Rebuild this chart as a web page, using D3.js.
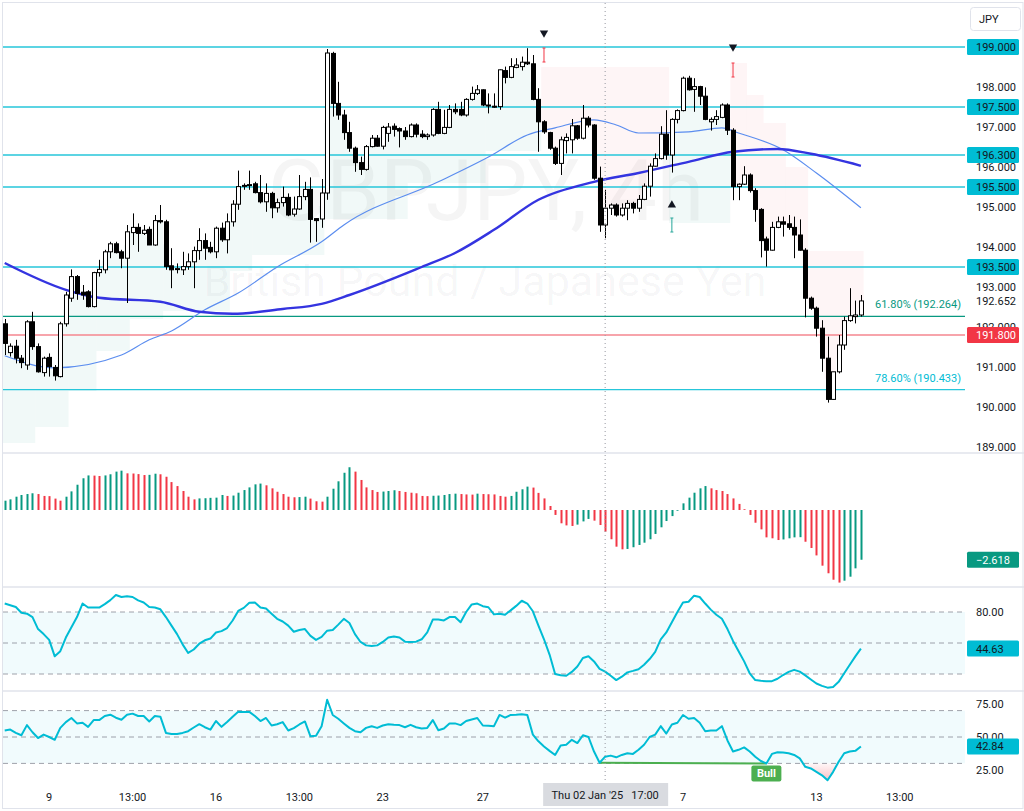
<!DOCTYPE html>
<html>
<head>
<meta charset="utf-8">
<script src="https://cdn.jsdelivr.net/npm/d3@7"></script>
<style>
  body { margin: 0; background: #fff; }
  svg { display: block; }
</style>
</head>
<body>
<div id="chart"></div>
<script>
// GBPJPY 4h candles, [open, high, low, close]
const candles = [
  [192.08,192.2,191.3,191.59],[191.36,191.59,191.26,191.52],[191.52,191.68,191.09,191.22],[191.22,191.3,190.97,191.11],[191.05,192.17,190.93,192.13],
  [192.13,192.38,191.43,191.51],[191.51,191.59,190.86,190.88],[190.86,191.26,190.76,191.22],[191.24,191.34,190.76,191.01],[190.99,191.05,190.66,190.78],
  [190.76,192.13,190.74,192.08],[192.08,192.88,192.01,192.8],[192.72,193.44,192.63,193.26],[193.26,193.3,192.68,192.84],[192.87,193.05,192.68,192.8],
  [192.88,192.92,192.49,192.51],[192.51,193.38,192.49,193.36],[193.36,193.68,193.26,193.44],[193.43,193.93,193.34,193.88],[193.88,194.13,193.72,194.08],
  [194.08,194.13,193.84,193.86],[193.88,193.93,193.47,193.72],[193.72,194.55,192.6,194.38],[194.36,194.84,194.05,194.49],[194.49,194.59,193.88,194.34],
  [194.34,194.55,194.3,194.42],[194.44,194.51,194.05,194.05],[194.05,194.8,194.03,194.66],[194.66,195.05,194.59,194.63],[194.63,194.68,193.43,193.51],
  [193.53,193.97,192.97,193.43],[193.45,193.59,193.34,193.46],[193.43,193.88,193.3,193.51],[193.51,193.84,193.43,193.63],[193.63,194.01,192.97,193.91],
  [193.91,194.47,193.68,194.16],[194.16,194.34,193.68,193.97],[193.99,194.13,193.84,193.88],[193.88,194.51,193.72,194.47],[194.47,194.61,194.13,194.18],
  [194.18,194.84,193.84,194.63],[194.63,195.17,194.51,195.07],[195.07,195.91,194.93,195.51],[195.53,195.59,195.43,195.54],[195.54,195.91,195.43,195.56],
  [195.58,195.63,195.34,195.36],[195.36,195.8,195.09,195.13],[195.13,195.59,194.88,195.34],[195.34,195.38,194.72,194.98],[194.98,195.21,194.86,195.11],
  [195.11,195.51,195.01,195.24],[195.24,195.34,194.77,194.8],[194.82,195.26,194.76,194.95],[194.95,195.8,194.93,195.26],[195.26,195.63,195.17,195.44],
  [195.44,195.74,194.11,194.69],[194.71,194.72,194.13,194.66],[194.7,195.7,194.48,195.35],[195.35,198.95,195.18,198.85],[198.84,198.88,197.26,197.59],
  [197.59,198.13,197.18,197.3],[197.3,197.43,196.68,196.86],[196.86,197.13,196.38,196.47],[196.47,196.51,195.88,196.11],[196.11,196.26,195.8,195.94],
  [195.94,196.55,195.91,196.51],[196.51,196.8,196.49,196.72],[196.72,196.8,196.51,196.52],[196.52,197.03,196.44,196.99],[196.84,197.1,196.63,197.0],
  [197.02,197.09,196.76,196.94],[196.96,196.99,196.49,196.9],[196.9,197.0,196.68,196.76],[196.76,197.09,196.74,197.05],[197.05,197.09,196.74,196.82],
  [196.82,196.92,196.72,196.76],[196.76,196.84,196.68,196.8],[196.8,197.47,196.76,197.44],[197.44,197.63,196.82,196.84],[196.84,197.43,196.82,196.99],
  [196.99,197.55,196.97,197.44],[197.44,197.59,197.32,197.38],[197.44,197.63,197.27,197.3],[197.3,197.72,197.26,197.69],[197.69,198.01,197.66,197.84],
  [197.84,198.05,197.8,197.93],[197.93,197.94,197.52,197.55],[197.55,197.84,197.34,197.54],[197.52,197.84,197.48,197.51],[197.51,198.44,197.43,198.43],
  [198.41,198.51,198.09,198.24],[198.24,198.72,198.22,198.51],[198.49,198.72,198.47,198.55],[198.51,198.76,198.41,198.62],[198.62,198.97,198.55,198.58],
  [198.58,198.8,197.67,197.69],[197.69,197.97,196.38,197.13],[197.13,197.17,196.83,196.88],[196.86,196.88,196.43,196.47],[196.47,196.51,196.05,196.09],
  [196.09,196.76,195.8,196.68],[196.66,196.84,196.34,196.74],[196.68,197.2,196.34,197.03],[197.03,197.05,196.68,196.72],[196.72,197.55,196.69,197.22],
  [197.22,197.27,196.99,197.05],[197.05,197.07,195.68,195.72],[195.72,196.01,194.38,194.55],[194.55,195.43,194.22,194.97],[194.97,195.09,194.8,195.05],
  [195.05,195.09,194.76,194.8],[194.8,195.09,194.76,194.97],[194.97,195.17,194.67,195.09],[195.09,195.13,194.84,194.97],[194.97,195.3,194.88,195.19],
  [195.19,195.59,195.17,195.52],[195.52,196.09,195.26,196.02],[196.02,196.34,196.01,196.21],[196.21,197.02,196.19,196.82],[196.82,197.42,196.18,196.3],
  [196.3,197.22,195.86,197.19],[197.19,197.44,197.09,197.41],[197.41,198.26,197.39,198.22],[198.22,198.28,197.91,197.93],[197.94,198.22,197.38,198.01],
  [198.01,198.03,197.55,197.77],[197.77,197.99,197.17,197.19],[197.13,197.24,196.91,197.19],[197.19,197.42,197.05,197.26],[197.24,197.59,197.22,197.55],
  [197.55,197.59,196.8,196.92],[196.92,196.97,195.17,195.51],[195.51,195.59,195.17,195.57],[195.57,196.02,195.55,195.8],[195.8,195.84,195.36,195.41],
  [195.41,195.47,194.63,194.94],[194.94,194.97,193.74,194.16],[194.2,194.26,193.51,193.92],[193.92,194.63,193.91,194.49],[194.49,194.76,194.47,194.63],
  [194.63,194.76,194.26,194.57],[194.58,194.8,194.43,194.49],[194.49,194.76,193.72,194.3],[194.3,194.69,193.91,193.92],[193.92,193.97,192.24,192.72],
  [192.72,192.76,192.43,192.47],[192.47,192.51,191.76,191.97],[191.97,192.17,190.88,191.22],[191.22,191.76,190.11,190.19],[190.19,190.88,190.18,190.88],
  [190.88,191.8,190.84,191.55],[191.55,192.26,191.43,192.16],[192.16,192.97,192.13,192.28],[192.26,192.66,192.09,192.3],[192.3,192.8,192.26,192.652]
];

// moving averages, read at a few bars
const maSlowIdx = [0, 11, 17, 28, 35, 41, 50, 57, 62, 75, 81, 88, 96, 106, 114, 123, 131, 139, 145, 154];
const maSlowVal = [193.6, 192.93, 192.73, 192.63, 192.38, 192.33, 192.45, 192.58, 192.8, 193.5, 193.85, 194.43, 195.18, 195.63, 195.85, 196.13, 196.38, 196.45, 196.33, 196.03];
const maFastIdx = [0, 9, 21, 26, 30, 36, 42, 49, 57, 61, 78, 87, 94, 99, 106, 110, 114, 123, 129, 132, 140, 146, 154];
const maFastVal = [191.28, 190.98, 191.3, 191.68, 191.9, 192.43, 192.85, 193.5, 194.13, 194.55, 195.63, 196.25, 196.8, 196.98, 197.18, 197.05, 196.85, 196.88, 196.98, 196.85, 196.43, 195.85, 194.98];

// trend stop segments: [from bar, to bar, level, uptrend]
const trendSegments = [
  [0, 5, 189.1, true], [6, 11, 189.5, true], [12, 16, 190.4, true], [17, 22, 191.4, true],
  [23, 28, 192.2, true], [29, 40, 192.4, true], [41, 44, 193.4, true], [45, 57, 193.8, true],
  [58, 72, 194.7, true], [73, 86, 195.6, true], [87, 96, 196.4, true],
  [97, 119, 198.5, false],
  [120, 130, 194.6, true],
  [131, 133, 198.6, false], [134, 136, 197.8, false], [137, 140, 197.1, false],
  [141, 144, 196.0, false], [145, 154, 193.9, false]
];

// signal markers
const signalIdx = [97, 120, 131];
const signalUp = [false, true, false];
const signalPrice = [199.35, 195.05, 199.0];
const stopTop = [198.975, 194.725, 198.6];
const stopBottom = [198.625, 194.375, 198.25];

// horizontal levels
const levelValues = [199.0, 197.5, 196.3, 195.5, 193.5];
const redLevel = 191.8;
const fibValues = [192.264, 190.433];
const fibNames = ["61.80%", "78.60%"];

// oscillator histogram
const histValues = [
  0.49,0.56,0.70,0.79,0.84,0.88,0.84,0.74,0.73,0.60,
  0.49,0.70,0.98,1.33,1.67,1.82,1.81,1.79,1.82,1.88,
  2.02,2.07,1.93,1.92,1.89,1.84,1.85,1.91,1.88,1.75,
  1.47,1.26,1.00,0.70,0.56,0.61,0.62,0.64,0.65,0.79,
  0.74,0.76,0.91,1.05,1.19,1.35,1.39,1.30,1.14,0.96,
  0.84,0.70,0.67,0.68,0.70,0.60,0.46,0.44,0.70,1.12,
  1.51,1.96,2.25,2.02,1.58,1.19,1.05,0.95,0.97,1.00,
  1.04,1.00,0.95,0.91,0.88,0.74,0.73,0.75,0.76,0.79,
  0.84,0.86,0.84,0.82,0.81,0.86,0.84,0.83,0.82,0.74,
  0.70,0.74,0.96,1.09,1.23,1.18,0.90,0.61,0.21,-0.26,
  -0.70,-0.81,-0.84,-0.77,-0.60,-0.47,-0.56,-0.79,-1.14,-1.54,
  -1.93,-2.07,-2.05,-1.96,-1.84,-1.72,-1.54,-1.26,-0.91,-0.58,
  -0.32,-0.04,0.35,0.65,0.91,1.14,1.26,1.14,1.05,1.00,
  0.84,0.61,0.32,0.04,-0.26,-0.67,-1.02,-1.44,-1.49,-1.58,
  -1.55,-1.49,-1.44,-1.43,-1.67,-2.00,-2.39,-2.93,-3.33,-3.67,
  -3.82,-3.72,-3.51,-3.07,-2.618
];

// stochastic
const stochValues = [
  88.2,86.6,84.9,79.3,78.4,75.1,63.5,58.6,53.0,37.1,
  42.1,55.3,65.2,75.1,88.2,84.3,84.3,84.3,87.6,91.5,
  96.5,94.5,95.2,94.5,91.2,89.2,84.9,84.3,82.6,75.1,
  66.8,58.6,48.7,40.4,43.7,49.3,52.6,54.3,60.2,61.5,
  64.5,71.8,81.0,84.0,88.9,89.2,84.3,83.3,78.4,73.4,
  70.8,66.8,60.9,62.5,63.5,56.9,53.0,55.9,61.9,62.5,
  67.8,73.4,69.4,58.6,51.0,47.7,47.0,47.7,51.0,55.3,
  56.3,55.3,51.3,51.0,51.3,53.6,60.2,72.7,72.7,71.8,
  75.1,75.1,70.1,80.0,87.3,88.2,85.6,84.6,77.7,78.4,
  77.4,81.6,85.9,90.9,88.2,80.7,66.8,53.6,38.8,20.0,
  18.7,18.3,22.0,27.2,35.5,37.1,32.2,24.9,22.3,18.3,
  14.1,17.4,21.6,23.0,24.6,28.9,34.5,41.4,53.6,60.2,
  70.1,80.0,89.2,89.9,95.8,94.5,88.2,82.3,77.4,73.4,
  63.5,52.0,42.1,32.2,20.7,14.1,13.4,13.1,13.1,15.4,
  19.0,22.0,24.0,22.3,18.7,14.7,10.8,8.5,6.8,7.5,
  12.4,20.7,28.9,37.1,44.63
];

// RSI
const rsiValues = [
  54.9,55.6,53.1,51.3,59.0,53.6,49.2,51.8,50.0,47.9,
  56.9,61.3,64.4,60.3,60.8,57.7,62.8,62.8,65.9,66.9,
  64.6,63.1,66.9,67.7,65.9,65.9,61.8,65.9,65.4,53.1,
  52.3,52.3,53.1,54.4,57.2,59.7,57.4,55.6,62.1,57.7,
  61.3,65.4,69.2,69.0,69.0,65.9,62.1,64.4,58.7,59.7,
  61.3,54.9,56.7,59.5,61.8,50.5,51.0,58.2,78.2,66.7,
  63.8,60.3,56.9,54.4,53.6,56.9,58.2,56.9,58.7,59.7,
  59.2,59.0,57.4,59.2,57.4,56.4,56.9,62.8,55.1,56.4,
  60.3,60.3,59.0,62.1,63.3,64.4,58.7,58.5,58.2,66.7,
  64.6,66.7,66.9,67.2,66.7,51.8,46.7,42.8,39.5,36.4,
  43.6,44.1,47.9,45.4,51.3,50.0,39.0,30.5,35.1,35.9,
  34.6,36.4,37.7,37.2,40.3,44.1,50.0,51.8,58.2,52.6,
  59.5,60.8,66.7,63.8,64.4,60.8,54.4,54.9,54.9,58.2,
  47.4,39.0,40.3,42.1,39.0,35.1,31.8,30.0,37.2,38.5,
  38.2,37.7,36.4,33.8,27.4,26.2,23.6,21.0,17.2,23.6,
  31.3,37.7,39.0,39.5,42.84
];
const divergence = [107, 137];

// time axis
const timeTickIdx = [8, 23, 38, 53, 68, 86, 122, 146, 161];
const timeTickLabels = ["9", "13:00", "16", "13:00", "23", "27", "7", "13", "13:00"];
const crosshairIdx = 108;
const crosshairLabel = "Thu 02 Jan '25   17:00";

const FONT = "Roboto, 'Noto Sans', sans-serif";
const TEXT = "#131722";
const GREEN = "#089981";
const RED = "#F23645";
const CYAN = "#00BCD4";
const W = 1024, H = 811;
const plotRight = 965;

const svg = d3.select("#chart").append("svg")
    .attr("width", W)
    .attr("height", H)
    .style("font-family", FONT);

const x = d3.scaleLinear().domain([0, 154]).range([4.7, 860.9]);
const yPrice = d3.scaleLinear().domain([189, 199]).range([447, 47]);
const yHist = d3.scaleLinear().domain([-4, 2]).range([586, 472]);
const yStoch = d3.scaleLinear().domain([20, 80]).range([674, 612]);
const yRsi = d3.scaleLinear().domain([25, 75]).range([770, 704]);

const defs = svg.append("defs");
function addClip(id, x0, y0, x1, y1) {
    defs.append("clipPath").attr("id", id)
        .append("rect").attr("x", x0).attr("y", y0).attr("width", x1 - x0).attr("height", y1 - y0);
}
addClip("clipMain", 3, 3, plotRight, 453);
addClip("clipHistAxis", 960, 454, W, 586);

const pinkGrad = defs.append("linearGradient").attr("id", "pinkGrad")
    .attr("x1", 0).attr("y1", 0).attr("x2", 0).attr("y2", 1);
pinkGrad.append("stop").attr("offset", "0%").attr("stop-color", RED).attr("stop-opacity", 0.04);
pinkGrad.append("stop").attr("offset", "100%").attr("stop-color", RED).attr("stop-opacity", 0.3);

// ---------- main pane ----------
const main = svg.append("g").attr("clip-path", "url(#clipMain)");

main.append("text")
    .attr("x", 486).attr("y", 220)
    .attr("text-anchor", "middle")
    .attr("font-size", 86)
    .attr("fill", TEXT).attr("fill-opacity", 0.045)
    .text("GBPJPY, 4h");
main.append("text")
    .attr("x", 485).attr("y", 296)
    .attr("text-anchor", "middle")
    .attr("font-size", 43)
    .attr("fill", TEXT).attr("fill-opacity", 0.045)
    .text("British Pound / Japanese Yen");

// trend fills between stop level and candle body middle
const stArea = d3.area()
    .x(d => x(d.i - 0.5))
    .y0(d => yPrice(d.level))
    .y1(d => yPrice(d.mid))
    .curve(d3.curveStepAfter);

trendSegments.forEach(([from, to, level, up]) => {
    const pts = d3.range(from, to + 1).map(i => ({ i, level, mid: (candles[i][0] + candles[i][3]) / 2 }));
    pts.push({ i: to + 1, level, mid: pts[pts.length - 1].mid });
    main.append("path")
        .attr("d", stArea(pts))
        .attr("fill", up ? GREEN : RED)
        .attr("fill-opacity", up ? 0.055 : 0.05);
});

// horizontal levels
main.append("g").selectAll("line").data(levelValues).join("line")
    .attr("x1", 3).attr("x2", plotRight)
    .attr("y1", d => yPrice(d)).attr("y2", d => yPrice(d))
    .attr("stroke", "#26C6DA").attr("stroke-width", 1.3);

main.append("line")
    .attr("x1", 3).attr("x2", plotRight)
    .attr("y1", yPrice(redLevel)).attr("y2", yPrice(redLevel))
    .attr("stroke", "#F4868F").attr("stroke-width", 1.5);

main.append("g").selectAll("line").data(fibValues).join("line")
    .attr("x1", 3).attr("x2", plotRight)
    .attr("y1", d => yPrice(d)).attr("y2", d => yPrice(d))
    .attr("stroke", (d, i) => i === 0 ? GREEN : "#26C6DA").attr("stroke-width", 1.2);

main.append("g").selectAll("text").data(fibValues).join("text")
    .attr("x", 875).attr("y", d => yPrice(d) - 8)
    .attr("font-size", 11)
    .attr("fill", (d, i) => i === 0 ? GREEN : CYAN)
    .text((d, i) => `${fibNames[i]} (${d.toFixed(3)})`);

// moving averages
const maLine = d3.line()
    .x(d => x(d[0]))
    .y(d => yPrice(d[1]))
    .curve(d3.curveMonotoneX);

main.append("path")
    .attr("d", maLine(d3.zip(maFastIdx, maFastVal)))
    .attr("fill", "none").attr("stroke", "#5B8DEF").attr("stroke-width", 1.2);
main.append("path")
    .attr("d", maLine(d3.zip(maSlowIdx, maSlowVal)))
    .attr("fill", "none").attr("stroke", "#3434E0").attr("stroke-width", 2.4);

// candles
const candleG = main.append("g");
candleG.selectAll("line").data(candles).join("line")
    .attr("x1", (d, i) => Math.round(x(i)) + 0.5)
    .attr("x2", (d, i) => Math.round(x(i)) + 0.5)
    .attr("y1", d => yPrice(d[1]))
    .attr("y2", d => yPrice(d[2]))
    .attr("stroke", "#000").attr("stroke-width", 1);

candleG.selectAll("rect").data(candles).join("rect")
    .attr("x", (d, i) => Math.round(x(i)) - 1.5)
    .attr("width", 4)
    .attr("y", d => yPrice(Math.max(d[0], d[3])))
    .attr("height", d => Math.max(1, Math.abs(yPrice(d[0]) - yPrice(d[3]))))
    .attr("fill", d => d[3] >= d[0] ? "#fff" : "#000")
    .attr("stroke", "#000").attr("stroke-width", 1);

// signal markers
const tri = d3.symbol().type(d3.symbolTriangle).size(30);
main.append("g").selectAll("path").data(signalIdx).join("path")
    .attr("d", tri)
    .attr("transform", (d, k) => `translate(${x(d)},${yPrice(signalPrice[k])}) rotate(${signalUp[k] ? 0 : 180})`)
    .attr("fill", TEXT);

const stopG = main.append("g").selectAll("g").data(signalIdx).join("g")
    .attr("stroke", (d, k) => signalUp[k] ? "#26A69A" : "#F23645")
    .attr("stroke-width", 1);
stopG.append("line")
    .attr("x1", d => x(d)).attr("x2", d => x(d))
    .attr("y1", (d, k) => yPrice(stopTop[k])).attr("y2", (d, k) => yPrice(stopBottom[k]));
stopG.append("line")
    .attr("x1", d => x(d) - 1.5).attr("x2", d => x(d) + 1.5)
    .attr("y1", (d, k) => yPrice(stopTop[k])).attr("y2", (d, k) => yPrice(stopTop[k]));
stopG.append("line")
    .attr("x1", d => x(d) - 1.5).attr("x2", d => x(d) + 1.5)
    .attr("y1", (d, k) => yPrice(stopBottom[k])).attr("y2", (d, k) => yPrice(stopBottom[k]));

// ---------- histogram pane ----------
svg.append("g").selectAll("rect").data(histValues).join("rect")
    .attr("x", (d, i) => Math.round(x(i)) - 0.5)
    .attr("width", 2)
    .attr("y", d => Math.min(yHist(d), yHist(0)))
    .attr("height", d => Math.abs(yHist(d) - yHist(0)))
    .attr("fill", (d, i) => i > 0 && d < histValues[i - 1] ? RED : GREEN);

// ---------- stochastic pane ----------
function bandPane(scale, lo, hi, mid) {
    const g = svg.append("g");
    g.append("rect")
        .attr("x", 3).attr("width", plotRight - 3)
        .attr("y", scale(hi)).attr("height", scale(lo) - scale(hi))
        .attr("fill", CYAN).attr("fill-opacity", 0.055);
    g.selectAll("line").data([hi, mid, lo]).join("line")
        .attr("x1", 3).attr("x2", plotRight)
        .attr("y1", d => scale(d)).attr("y2", d => scale(d))
        .attr("stroke", "#787B86").attr("stroke-opacity", 0.7)
        .attr("stroke-dasharray", "5,4");
    return g;
}
bandPane(yStoch, 20, 80, 50);

const oscLine = scale => d3.line().x((d, i) => x(i)).y(d => scale(d));

svg.append("path")
    .attr("d", oscLine(yStoch)(stochValues))
    .attr("fill", "none").attr("stroke", CYAN).attr("stroke-width", 2)
    .attr("stroke-linejoin", "round");

// ---------- RSI pane ----------
bandPane(yRsi, 30, 70, 50);

svg.append("path")
    .attr("d", d3.area()
        .x((d, i) => x(i))
        .y0(yRsi(30))
        .y1(d => yRsi(Math.min(d, 30)))(rsiValues))
    .attr("fill", "url(#pinkGrad)");

svg.append("line")
    .attr("x1", x(divergence[0])).attr("x2", x(divergence[1]))
    .attr("y1", yRsi(rsiValues[divergence[0]])).attr("y2", yRsi(rsiValues[divergence[1]]))
    .attr("stroke", "#4CAF50").attr("stroke-width", 2);

svg.append("path")
    .attr("d", oscLine(yRsi)(rsiValues))
    .attr("fill", "none").attr("stroke", CYAN).attr("stroke-width", 2)
    .attr("stroke-linejoin", "round");

const bull = svg.append("g")
    .attr("transform", `translate(${x(divergence[1])},${yRsi(30) + 2})`);
bull.append("rect")
    .attr("x", -15).attr("y", 0).attr("width", 30).attr("height", 16).attr("rx", 2)
    .attr("fill", "#4CAF50");
bull.append("text")
    .attr("y", 12).attr("text-anchor", "middle")
    .attr("font-size", 11).attr("font-weight", "bold")
    .attr("fill", "#fff").text("Bull");

// ---------- pane separators & frame ----------
svg.append("g").selectAll("line").data([453, 587, 691]).join("line")
    .attr("x1", 3).attr("x2", W)
    .attr("y1", d => d).attr("y2", d => d)
    .attr("stroke", "#E0E3EB").attr("stroke-width", 1.5);
svg.append("rect")
    .attr("x", 2.5).attr("y", 2.5).attr("width", W - 3.5).attr("height", 806)
    .attr("fill", "none").attr("stroke", "#E0E3EB");

// crosshair
svg.append("line")
    .attr("x1", x(crosshairIdx)).attr("x2", x(crosshairIdx))
    .attr("y1", 3).attr("y2", 783)
    .attr("stroke", "#9598A1").attr("stroke-dasharray", "1,3");

// ---------- time axis ----------
svg.append("g").selectAll("text").data(timeTickIdx).join("text")
    .attr("x", d => x(d)).attr("y", 801)
    .attr("text-anchor", "middle")
    .attr("font-size", 11).attr("fill", TEXT)
    .text((d, k) => timeTickLabels[k]);

svg.append("rect")
    .attr("x", x(crosshairIdx) - 62).attr("y", 783).attr("width", 125).attr("height", 23)
    .attr("fill", "#D9DBE0");
svg.append("text")
    .attr("x", x(crosshairIdx)).attr("y", 799)
    .attr("text-anchor", "middle")
    .attr("font-size", 11).attr("fill", TEXT)
    .style("white-space", "pre")
    .text(crosshairLabel);

// ---------- right axes ----------
function rightAxis(scale, values, fmt, clip) {
    const g = svg.append("g")
        .attr("transform", `translate(${plotRight + 1},0)`)
        .call(d3.axisRight(scale).tickValues(values).tickFormat(fmt).tickSize(0).tickPadding(10))
        .attr("font-size", 11).attr("font-family", FONT);
    g.select(".domain").remove();
    g.selectAll("text").attr("fill", TEXT);
    if (clip) g.attr("clip-path", clip);
    return g;
}
rightAxis(yPrice, d3.range(189, 199), d3.format(".3f"));
rightAxis(yHist, [-4, -2, 0, 2], d3.format(".3f"), "url(#clipHistAxis)");
rightAxis(yStoch, [80], d3.format(".2f"));
rightAxis(yRsi, [25, 50, 75], d3.format(".2f"));

// last price plain label
svg.append("text")
    .attr("x", 976).attr("y", yPrice(candles[154][3]) + 4)
    .attr("font-size", 11).attr("fill", TEXT)
    .text(candles[154][3].toFixed(3));

function valueBox(y, label, fill, color) {
    const g = svg.append("g").attr("transform", `translate(967,${y})`);
    g.append("rect").attr("x", 0).attr("y", -8).attr("width", 52).attr("height", 16).attr("rx", 1.5)
        .attr("fill", fill);
    g.append("text").attr("x", 9).attr("y", 4)
        .attr("font-size", 11).attr("fill", color).text(label);
}
levelValues.forEach(v => valueBox(yPrice(v), v.toFixed(3), CYAN, TEXT));
valueBox(yPrice(redLevel), redLevel.toFixed(3), RED, "#fff");
valueBox(yHist(histValues[154]), d3.format(".3f")(histValues[154]), GREEN, "#fff");
valueBox(yStoch(stochValues[154]), stochValues[154].toFixed(2), CYAN, TEXT);
valueBox(yRsi(rsiValues[154]), rsiValues[154].toFixed(2), CYAN, TEXT);

// currency box
svg.append("rect")
    .attr("x", 970.5).attr("y", 7.5).attr("width", 50).attr("height", 23).attr("rx", 3)
    .attr("fill", "#fff").attr("stroke", "#E0E3EB");
svg.append("text")
    .attr("x", 979).attr("y", 23)
    .attr("font-size", 11).attr("fill", TEXT).text("JPY");
</script>
</body>
</html>
